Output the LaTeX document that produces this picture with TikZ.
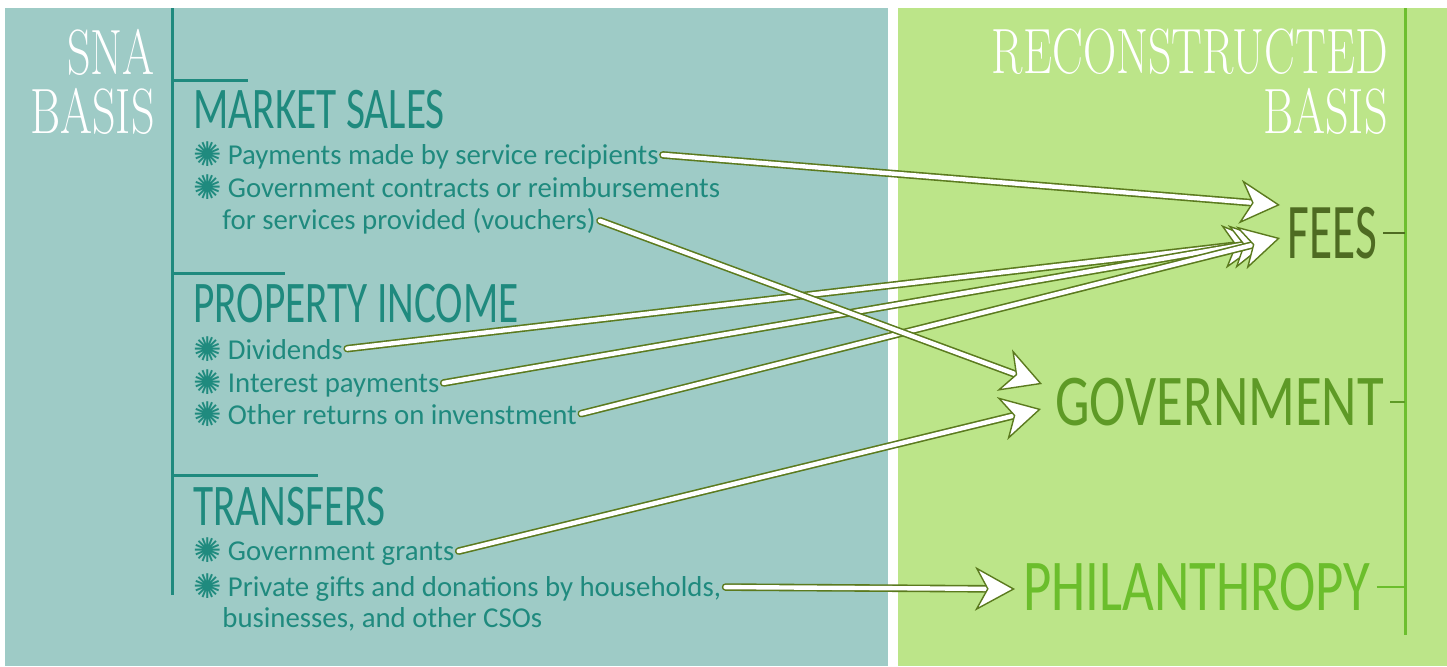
\documentclass[tikz,border=0pt]{standalone}
\usepackage{fontspec}
\usepackage{tikz}
\usetikzlibrary{arrows.meta}
\newfontfamily\bodyfont{Carlito}
\newfontfamily\headfont[FakeStretch=0.7]{Carlito}
\newfontfamily\sidefont[FakeStretch=0.75]{Carlito}
\newfontfamily\feesfont[FakeStretch=0.6]{Carlito}
\newfontfamily\titlefont[FakeStretch=0.72]{lmroman17-regular.otf}
\newfontfamily\symfont{DejaVu Sans}
\definecolor{snabg}{HTML}{9ECBC6}
\definecolor{snaline}{HTML}{1F8A7E}
\definecolor{recbg}{HTML}{BCE589}
\definecolor{recline}{HTML}{6CBF2E}
\definecolor{feescol}{HTML}{4E6B22}
\definecolor{govcol}{HTML}{5E9A26}
\definecolor{philcol}{HTML}{6BBE2C}
\definecolor{arrowedge}{HTML}{5B7A1E}
\newcommand{\bul}{\raisebox{-1pt}{\symfont\fontsize{17}{17}\selectfont ✺}\hspace{3pt}}
\tikzstyle{title}=[text=white, font=\titlefont\fontsize{32}{32}\selectfont, inner sep=0pt, anchor=base east, text height=22pt, text depth=0pt]
\tikzstyle{heading}=[text=snaline, font=\headfont\fontsize{29.5}{30}\selectfont, inner sep=0pt, anchor=base west]
\tikzstyle{item}=[text=snaline, font=\bodyfont\fontsize{14.4}{15}\selectfont, inner sep=2pt, anchor=base west]
\tikzstyle{side}=[font=\sidefont\fontsize{36.5}{37}\selectfont, inner sep=0pt, anchor=base west]
\tikzstyle{rule}=[draw=snaline, line width=1.5pt]
\tikzstyle{tick}=[line width=1pt]
\tikzstyle{flow}=[preaction={-, draw=arrowedge, line width=3.8pt, line cap=round, shorten >=12pt},
  draw=white, line width=2.2pt, line cap=round,
  -{Stealth[length=20pt, width=22pt, inset=6pt, color=arrowedge, fill=white, line width=0.7pt]}]

\begin{document}
\begin{tikzpicture}[x=0.5pt, y=-0.5pt]

    \useasboundingbox (0,0) rectangle (1447,666);
    \fill[snabg] (5,8) rectangle (888,666);
    \fill[recbg] (898,8) rectangle (1447,666);

    % left side
    \draw[rule] (172,8) -- (172,595);
    \foreach \y/\x in {80/248, 273/285, 475/318}
        \draw[rule] (172,\y) -- (\x,\y);

    \node[title] (sna) at (155,74) {SNA};
    \node[title] (snab) at (155,133) {BASIS};

    \foreach \pos/\name/\txt in {{(193,128)/market/MARKET SALES}, {(193,322)/property/PROPERTY INCOME}, {(193,525)/transfers/TRANSFERS}}
        \node[heading] (\name) at \pos {\txt};

    \foreach \pos/\name/\txt in {
        {(189,164)/pay/{\bul Payments made by service recipients}},
        {(189,197)/contr/{\bul Government contracts or reimbursements}},
        {(218,229)/vouch/{for services provided (vouchers)}},
        {(189,359)/div/{\bul Dividends}},
        {(189,392)/int/{\bul Interest payments}},
        {(189,424)/oth/{\bul Other returns on invenstment}},
        {(189,560)/grant/{\bul Government grants}},
        {(189,596)/gift/{\bul Private gifts and donations by households,}},
        {(218,627)/gifttwo/{businesses, and other CSOs}}}
        \node[item] (\name) at \pos {\txt};

    % right side
    \coordinate (gtop) at (1405,8);
    \draw[recline, line width=1.5pt] (gtop) -- (1405,635);

    \node[title] (rec) at (1388,73) {RECONSTRUCTED};
    \node[title] (recb) at (1388,133) {BASIS};

    \node[side, text=feescol, font=\feesfont\fontsize{39.5}{40}\selectfont] (fees) at (1287,258) {FEES};
    \node[side, text=govcol] (gov) at (1055,425) {GOVERNMENT};
    \node[side, text=philcol] (phil) at (1023,610) {PHILANTHROPY};

    \foreach \name/\col in {fees/feescol, gov/govcol, phil/philcol}
        \draw[tick, \col] ([xshift=3pt]\name.east) -- (\name.east -| gtop);

    \foreach \x/\y/\name in {1280/205/feesa, 1263/242/feesb, 1271/240/feesc, 1280/238/feesd,
                             1042/384/gova, 1041/409/govb, 1015/589/phila}
        \coordinate (\name) at (\x,\y);

    \foreach \source/\dest in {div/feesb, int/feesc, oth/feesd, pay/feesa, vouch/gova, grant/govb, gift/phila}
        \draw[flow] (\source.east) -- (\dest);

\end{tikzpicture}
\end{document}
